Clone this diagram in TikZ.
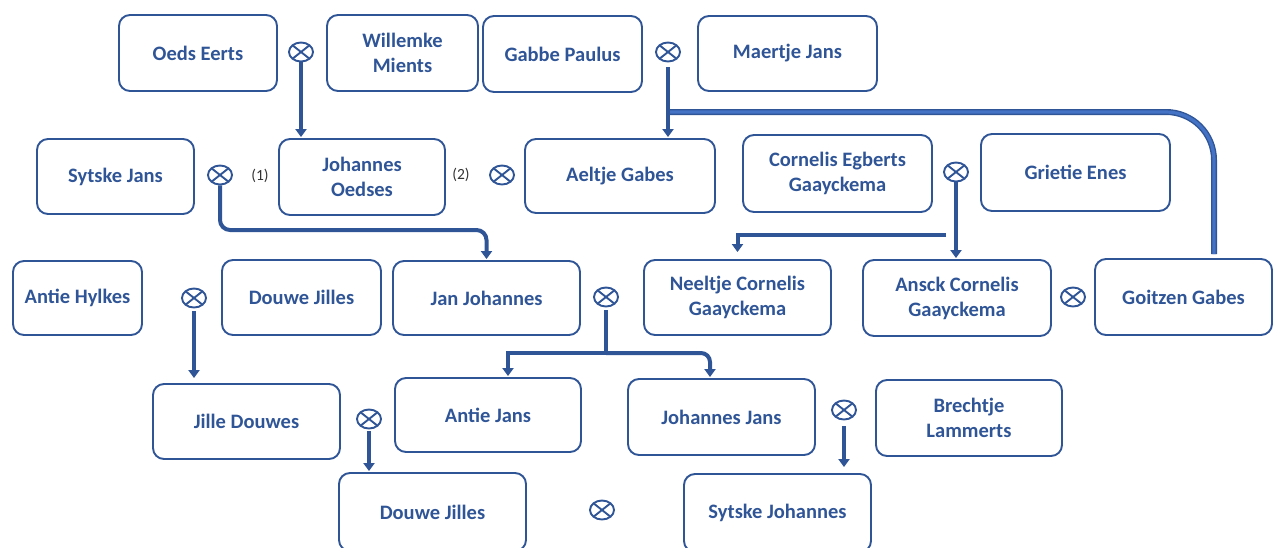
\documentclass[tikz,border=0pt]{standalone}
\usepackage{fontspec}
\setmainfont{Carlito}
\usetikzlibrary{arrows.meta,shapes.geometric}
\definecolor{bl}{HTML}{2F5597}
\definecolor{bll}{HTML}{4472C4}
\begin{document}
\begin{tikzpicture}[x=1pt,y=-1pt,
 person/.style={draw=bl, line width=1.9pt, rounded corners=11pt, text=bl,
   font=\fontsize{20.5}{25}\selectfont\bfseries, align=center, inner sep=0pt},
 wed/.style={ellipse, draw=bl, line width=1.9pt, minimum width=24pt, minimum height=19pt, inner sep=0pt,
   path picture={\draw[bl, line width=1.9pt] (path picture bounding box.north west) -- (path picture bounding box.south east)
     (path picture bounding box.north east) -- (path picture bounding box.south west);}},
 link/.style={draw=bl, line width=4pt, -{Triangle[length=8pt,width=11pt]}},
 bar/.style={draw=bl, line width=4pt},
 num/.style={font=\fontsize{15.5}{18}\selectfont, text=black!80}]
\useasboundingbox (0,0) rectangle (1274,547);
% persons
\node[person, minimum width=158, minimum height=76] (oeds) at (198,53) {Oeds Eerts};
\node[person, minimum width=151, minimum height=76] (willemke) at (402.5,53) {Willemke\\Mients};
\node[person, minimum width=159, minimum height=76] (gabbe) at (562.5,54) {Gabbe Paulus};
\node[person, minimum width=179, minimum height=75] (maertje) at (787.5,53.5) {Maertje Jans};
\node[person, minimum width=157, minimum height=75] (sytske) at (115.5,176.5) {Sytske Jans};
\node[person, minimum width=166, minimum height=76] (johO) at (362,177) {Johannes\\Oedses};
\node[person, minimum width=190, minimum height=74] (aeltje) at (620,176) {Aeltje Gabes};
\node[person, minimum width=189, minimum height=77] (cornelis) at (837.5,173.5) {Cornelis Egberts\\Gaayckema};
\node[person, minimum width=189, minimum height=77] (grietie) at (1075.5,172.5) {Grietie Enes};
\node[person, minimum width=129, minimum height=74] (antieH) at (77.5,298) {Antie Hylkes};
\node[person, minimum width=159, minimum height=75] (douweT) at (301.5,297.5) {Douwe Jilles};
\node[person, minimum width=187, minimum height=74] (jan) at (486.5,298) {Jan Johannes};
\node[person, minimum width=187, minimum height=75] (neeltje) at (737.5,297.5) {Neeltje Cornelis\\Gaayckema};
\node[person, minimum width=188, minimum height=76] (ansck) at (957,298) {Ansck Cornelis\\Gaayckema};
\node[person, minimum width=177, minimum height=76] (goitzen) at (1183.5,297) {Goitzen Gabes};
\node[person, minimum width=187, minimum height=75] (jille) at (246.5,421.5) {Jille Douwes};
\node[person, minimum width=186, minimum height=74] (antieJ) at (488,415) {Antie Jans};
\node[person, minimum width=187, minimum height=76] (johJ) at (721.5,417) {Johannes Jans};
\node[person, minimum width=186, minimum height=76] (brechtje) at (969,418) {Brechtje\\Lammerts};
\node[person, minimum width=187, minimum height=78] (douweB) at (432.5,512) {Douwe Jilles};
\node[person, minimum width=187, minimum height=78] (sytskeJ) at (777.5,513) {Sytske Johannes};
% marriages
\node[wed] (w1) at (301,52) {};
\node[wed] (w2) at (668,52) {};
\node[wed] (w3) at (220,175) {};
\node[wed] (w4) at (502,175) {};
\node[wed] (w5) at (956,172) {};
\node[wed] (w6) at (194,298) {};
\node[wed] (w7) at (606,297) {};
\node[wed] (w8) at (1073,297) {};
\node[wed] (w9) at (369,419) {};
\node[wed] (w10) at (844,410) {};
\node[wed] (w11) at (602,510) {};
% numbers
\node[num] (n1) at (260,176) {(1)};
\node[num] (n2) at (461,175) {(2)};
% connectors
\draw[link, shorten >=1pt] (w1.south) -- (w1.south |- johO.north);
\draw[link, shorten <=5pt, shorten >=1pt] (w2.south) -- (w2.south |- aeltje.north);
\coordinate (g0) at (670,112);
\draw[bl, line width=1.4pt, double=bll, double distance=3.2pt, rounded corners=48pt] (g0) -| ([xshift=30.5pt,yshift=4pt]goitzen.north);
\draw[link, rounded corners=10pt, shorten >=1pt] (w3.south) -- (220,230) -| (jan.north);
\draw[link, shorten >=1pt] (w5.south) -- (w5.south |- ansck.north);
\coordinate (c1) at (946,235);
\draw[link, shorten >=7pt] (c1) -| (neeltje.north);
\draw[link, shorten <=3pt, shorten >=5pt] (w6.south) -- (w6.south |- jille.north);
\coordinate (j0) at (606,353);
\draw[bar, shorten <=3pt] (w7.south) -- (j0);
\draw[link, shorten >=1pt] (j0) -| ([xshift=20pt]antieJ.north);
\draw[link, rounded corners=9pt, shorten >=1pt] (j0) -| ([xshift=-11.5pt]johJ.north);
\draw[link, shorten <=2pt, shorten >=1pt] (w9.south) -- (w9.south |- douweB.north);
\draw[link, shorten <=6pt, shorten >=6pt] (w10.south) -- (w10.south |- sytskeJ.north);
\end{tikzpicture}
\end{document}
